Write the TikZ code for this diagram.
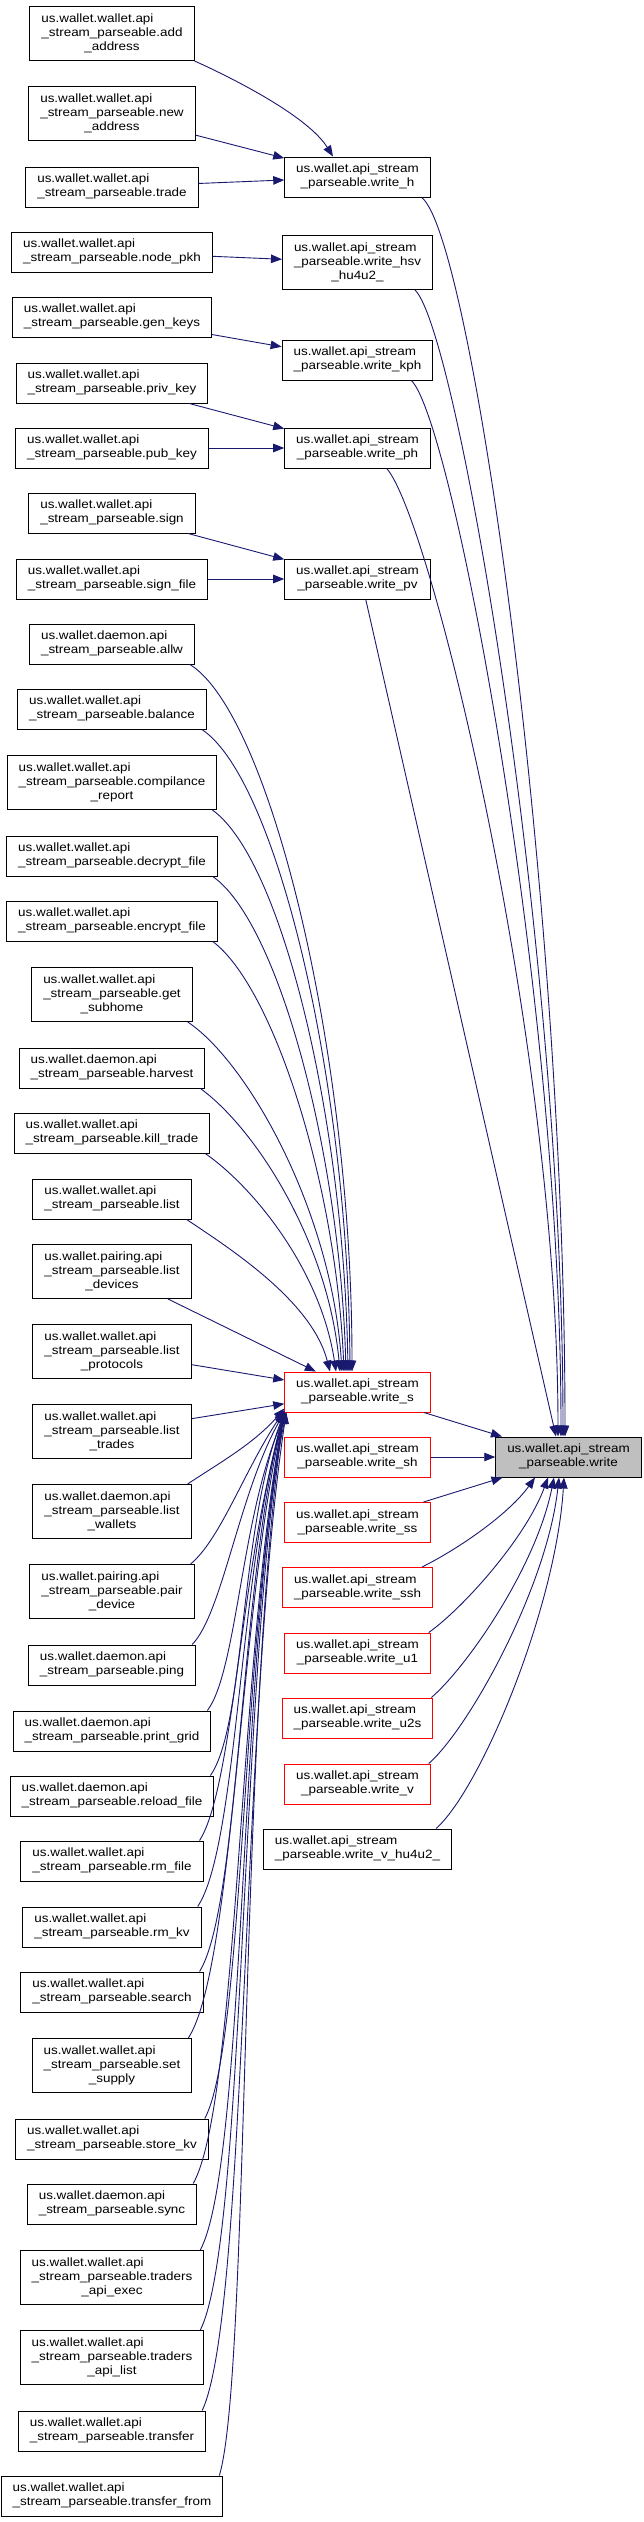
\documentclass[tikz,border=0pt]{standalone}
\usepackage{fontspec}
\setmainfont{Liberation Sans}[FakeStretch=1.12]
\usetikzlibrary{arrows.meta}
\definecolor{edgeBlue}{HTML}{191970}
\definecolor{curFill}{HTML}{BFBFBF}
\newcommand{\lbl}[2]{\begin{tabular}{@{}l@{}}#1\\\multicolumn{1}{@{}c@{}}{#2}\end{tabular}}
\tikzstyle{func} = [rectangle, draw = black, line width = 1pt, inner xsep = 11.5pt, inner ysep = 6pt, font = \fontsize{12}{14}\selectfont]
\tikzstyle{partial} = [func, draw = red]
\tikzstyle{current} = [func, fill = curFill]
\tikzstyle{call} = [-{Triangle[length = 11pt, width = 8.5pt]}, line width = 0.9pt, color = edgeBlue]

\begin{document}
\begin{tikzpicture}[x = 1pt, y = -1pt]
\useasboundingbox (0,0) rectangle (643,2522);

% callers, left column
\node (addAddress) [func] at (112,33.5) {\lbl{us.wallet.wallet.api\\\_stream\_parseable.add}{\_address}};
\node (newAddress) [func] at (112,113.5) {\lbl{us.wallet.wallet.api\\\_stream\_parseable.new}{\_address}};
\node (trade) [func] at (112,187) {\lbl{us.wallet.wallet.api}{\_stream\_parseable.trade}};
\node (nodePkh) [func] at (112,252) {\lbl{us.wallet.wallet.api}{\_stream\_parseable.node\_pkh}};
\node (genKeys) [func] at (112,317) {\lbl{us.wallet.wallet.api}{\_stream\_parseable.gen\_keys}};
\node (privKey) [func] at (112,383) {\lbl{us.wallet.wallet.api}{\_stream\_parseable.priv\_key}};
\node (pubKey) [func] at (112,448) {\lbl{us.wallet.wallet.api}{\_stream\_parseable.pub\_key}};
\node (sign) [func] at (112,513) {\lbl{us.wallet.wallet.api}{\_stream\_parseable.sign}};
\node (signFile) [func] at (112,579) {\lbl{us.wallet.wallet.api}{\_stream\_parseable.sign\_file}};
\node (allw) [func] at (112,644) {\lbl{us.wallet.daemon.api}{\_stream\_parseable.allw}};
\node (balance) [func] at (112,709) {\lbl{us.wallet.wallet.api}{\_stream\_parseable.balance}};
\node (compReport) [func] at (112,782.5) {\lbl{us.wallet.wallet.api\\\_stream\_parseable.compilance}{\_report}};
\node (decryptFile) [func] at (112,856) {\lbl{us.wallet.wallet.api}{\_stream\_parseable.decrypt\_file}};
\node (encryptFile) [func] at (112,921) {\lbl{us.wallet.wallet.api}{\_stream\_parseable.encrypt\_file}};
\node (getSubhome) [func] at (112,994.5) {\lbl{us.wallet.wallet.api\\\_stream\_parseable.get}{\_subhome}};
\node (harvest) [func] at (112,1068) {\lbl{us.wallet.daemon.api}{\_stream\_parseable.harvest}};
\node (killTrade) [func] at (112,1133) {\lbl{us.wallet.wallet.api}{\_stream\_parseable.kill\_trade}};
\node (list) [func] at (112,1199) {\lbl{us.wallet.wallet.api}{\_stream\_parseable.list}};
\node (listDevices) [func] at (112,1271.5) {\lbl{us.wallet.pairing.api\\\_stream\_parseable.list}{\_devices}};
\node (listProtocols) [func] at (112,1351.5) {\lbl{us.wallet.wallet.api\\\_stream\_parseable.list}{\_protocols}};
\node (listTrades) [func] at (112,1431.5) {\lbl{us.wallet.wallet.api\\\_stream\_parseable.list}{\_trades}};
\node (listWallets) [func] at (112,1511.5) {\lbl{us.wallet.daemon.api\\\_stream\_parseable.list}{\_wallets}};
\node (pairDevice) [func] at (112,1591.5) {\lbl{us.wallet.pairing.api\\\_stream\_parseable.pair}{\_device}};
\node (ping) [func] at (112,1665) {\lbl{us.wallet.daemon.api}{\_stream\_parseable.ping}};
\node (printGrid) [func] at (112,1731) {\lbl{us.wallet.daemon.api}{\_stream\_parseable.print\_grid}};
\node (reloadFile) [func] at (112,1796) {\lbl{us.wallet.daemon.api}{\_stream\_parseable.reload\_file}};
\node (rmFile) [func] at (112,1861) {\lbl{us.wallet.wallet.api}{\_stream\_parseable.rm\_file}};
\node (rmKv) [func] at (112,1927) {\lbl{us.wallet.wallet.api}{\_stream\_parseable.rm\_kv}};
\node (search) [func] at (112,1992) {\lbl{us.wallet.wallet.api}{\_stream\_parseable.search}};
\node (setSupply) [func] at (112,2065.5) {\lbl{us.wallet.wallet.api\\\_stream\_parseable.set}{\_supply}};
\node (storeKv) [func] at (112,2139) {\lbl{us.wallet.wallet.api}{\_stream\_parseable.store\_kv}};
\node (sync) [func] at (112,2204) {\lbl{us.wallet.daemon.api}{\_stream\_parseable.sync}};
\node (tradersExec) [func] at (112,2277.5) {\lbl{us.wallet.wallet.api\\\_stream\_parseable.traders}{\_api\_exec}};
\node (tradersList) [func] at (112,2357.5) {\lbl{us.wallet.wallet.api\\\_stream\_parseable.traders}{\_api\_list}};
\node (transfer) [func] at (112,2431) {\lbl{us.wallet.wallet.api}{\_stream\_parseable.transfer}};
\node (transferFrom) [func] at (112,2496) {\lbl{us.wallet.wallet.api}{\_stream\_parseable.transfer\_from}};

% middle column
\node (writeH) [func] at (357.5,177) {\lbl{us.wallet.api\_stream}{\_parseable.write\_h}};
\node (writeHsv) [func] at (357.5,262.5) {\lbl{us.wallet.api\_stream\\\_parseable.write\_hsv}{\_hu4u2\_}};
\node (writeKph) [func] at (357.5,360) {\lbl{us.wallet.api\_stream}{\_parseable.write\_kph}};
\node (writePh) [func] at (357.5,448) {\lbl{us.wallet.api\_stream}{\_parseable.write\_ph}};
\node (writePv) [func] at (357.5,579) {\lbl{us.wallet.api\_stream}{\_parseable.write\_pv}};
\node (writeS) [partial] at (357.5,1392) {\lbl{us.wallet.api\_stream}{\_parseable.write\_s}};
\node (writeSh) [partial] at (357.5,1457) {\lbl{us.wallet.api\_stream}{\_parseable.write\_sh}};
\node (writeSs) [partial] at (357.5,1522.5) {\lbl{us.wallet.api\_stream}{\_parseable.write\_ss}};
\node (writeSsh) [partial] at (357.5,1587.5) {\lbl{us.wallet.api\_stream}{\_parseable.write\_ssh}};
\node (writeUone) [partial] at (357.5,1653) {\lbl{us.wallet.api\_stream}{\_parseable.write\_u1}};
\node (writeUtwos) [partial] at (357.5,1718) {\lbl{us.wallet.api\_stream}{\_parseable.write\_u2s}};
\node (writeV) [partial] at (357.5,1784) {\lbl{us.wallet.api\_stream}{\_parseable.write\_v}};
\node (writeVhu) [func] at (357.5,1849) {\lbl{us.wallet.api\_stream}{\_parseable.write\_v\_hu4u2\_}};

% the function itself
\node (writeMain) [current] at (568.5,1457) {\lbl{us.wallet.api\_stream}{\_parseable.write}};

% top callers
\draw [call] (addAddress.south east) .. controls +(40,18) and +(-25,-40) .. ([xshift=-24.5pt]writeH.north);
\draw [call] (newAddress) -- (writeH);
\draw [call] (trade) -- (writeH);
\draw [call] (nodePkh) -- (writeHsv);
\draw [call] (genKeys) -- (writeKph);
\draw [call] (privKey) -- (writePh);
\draw [call] (pubKey) -- (writePh);
\draw [call] (sign) -- (writePv);
\draw [call] (signFile) -- (writePv);

% callers of write_s from above
\draw [call] ([xshift=-5pt]allw.south east) .. controls +(80,50) and +(0,-320) .. ([xshift=-5.5pt]writeS.north);
\draw [call] ([xshift=-5pt]balance.south east) .. controls +(75,50) and +(-2,-290) .. ([xshift=-7.5pt]writeS.north);
\draw [call] ([xshift=-5pt]compReport.south east) .. controls +(70,50) and +(-4,-250) .. ([xshift=-9.5pt]writeS.north);
\draw [call] ([xshift=-5pt]decryptFile.south east) .. controls +(65,45) and +(-6,-220) .. ([xshift=-11.5pt]writeS.north);
\draw [call] ([xshift=-5pt]encryptFile.south east) .. controls +(60,45) and +(-8,-190) .. ([xshift=-13.5pt]writeS.north);
\draw [call] ([xshift=-5pt]getSubhome.south east) .. controls +(60,40) and +(-10,-160) .. ([xshift=-15.5pt]writeS.north);
\draw [call] ([xshift=-5pt]harvest.south east) .. controls +(55,40) and +(-12,-130) .. ([xshift=-17.5pt]writeS.north);
\draw [call] ([xshift=-5pt]killTrade.south east) .. controls +(50,35) and +(-15,-100) .. ([xshift=-21.5pt]writeS.north);
\draw [call] ([xshift=-5pt]list.south east) .. controls +(45,30) and +(-18,-70) .. ([xshift=-27.5pt]writeS.north);
\draw [call] (listDevices) -- (writeS);
\draw [call] (listProtocols) -- (writeS);
\draw [call] (listTrades) -- (writeS);

% callers of write_s from below
\draw [call] ([xshift=-4pt]listWallets.north east) .. controls +(30,-20) and +(-30,35) .. ([yshift=4pt]writeS.south west);
\draw [call] ([xshift=-4pt]pairDevice.north east) .. controls +(30,-25) and +(-40,60) .. ([yshift=2pt]writeS.south west);
\draw [call] ([xshift=-4pt]ping.north east) .. controls +(30,-30) and +(-45,80) .. (writeS.south west);
\draw [call] ([xshift=-4pt]printGrid.north east) .. controls +(30,-40) and +(-45,100) .. ([xshift=2pt]writeS.south west);
\draw [call] ([xshift=-4pt]reloadFile.north east) .. controls +(35,-50) and +(-45,120) .. (writeS.south west);
\draw [call] ([xshift=-4pt]rmFile.north east) .. controls +(35,-55) and +(-45,140) .. ([xshift=2pt]writeS.south west);
\draw [call] ([xshift=-4pt]rmKv.north east) .. controls +(40,-60) and +(-45,160) .. (writeS.south west);
\draw [call] ([xshift=-4pt]search.north east) .. controls +(40,-65) and +(-45,180) .. ([yshift=2pt]writeS.south west);
\draw [call] ([xshift=-4pt]setSupply.north east) .. controls +(45,-70) and +(-45,200) .. (writeS.south west);
\draw [call] ([xshift=-4pt]storeKv.north east) .. controls +(40,-75) and +(-45,220) .. ([xshift=2pt]writeS.south west);
\draw [call] ([xshift=-4pt]sync.north east) .. controls +(45,-80) and +(-45,240) .. (writeS.south west);
\draw [call] ([xshift=-4pt]tradersExec.north east) .. controls +(45,-85) and +(-45,260) .. ([yshift=2pt]writeS.south west);
\draw [call] ([xshift=-4pt]tradersList.north east) .. controls +(45,-90) and +(-45,280) .. (writeS.south west);
\draw [call] ([xshift=-4pt]transfer.north east) .. controls +(45,-95) and +(-45,300) .. ([xshift=2pt]writeS.south west);
\draw [call] ([xshift=-4pt]transferFrom.north east) .. controls +(30,-100) and +(-45,320) .. (writeS.south west);

% into write
\draw [call] ([xshift=-9pt]writeH.south east) .. controls +(50,40) and +(0,-540) .. ([xshift=-3.5pt]writeMain.north);
\draw [call] ([xshift=-18pt]writeHsv.south east) .. controls +(42,40) and +(0,-490) .. ([xshift=-5.5pt]writeMain.north);
\draw [call] ([xshift=-22pt]writeKph.south east) .. controls +(41,40) and +(0,-440) .. ([xshift=-7.5pt]writeMain.north);
\draw [call] ([xshift=-44pt]writePh.south east) .. controls +(45,52) and +(0,-390) .. ([xshift=-10.5pt]writeMain.north);
\draw [call] ([xshift=-65pt]writePv.south east) -- ([xshift=-12.5pt]writeMain.north);
\draw [call] (writeS) -- (writeMain);
\draw [call] (writeSh) -- (writeMain);
\draw [call] (writeSs) -- (writeMain);
\draw [call] ([xshift=-11pt]writeSsh.north east) .. controls +(40,-20) and +(-25,35) .. ([xshift=-33.5pt]writeMain.south);
\draw [call] ([xshift=-2pt]writeUone.north east) .. controls +(35,-25) and +(-22,60) .. ([xshift=-20.5pt]writeMain.south);
\draw [call] ([xshift=-2pt]writeUtwos.north east) .. controls +(35,-30) and +(-18,90) .. ([xshift=-14.5pt]writeMain.south);
\draw [call] ([xshift=-2pt]writeV.north east) .. controls +(40,-35) and +(-12,110) .. ([xshift=-9.5pt]writeMain.south);
\draw [call] ([xshift=-16pt]writeVhu.north east) .. controls +(45,-40) and +(-8,130) .. ([xshift=-4.5pt]writeMain.south);
\end{tikzpicture}
\end{document}
